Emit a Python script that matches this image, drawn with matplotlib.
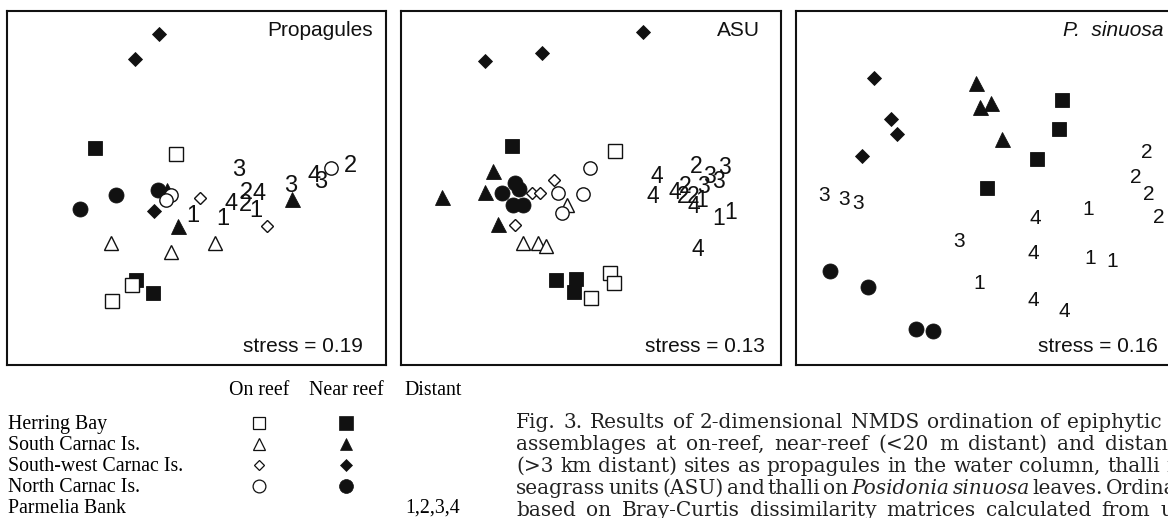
import matplotlib
matplotlib.use('Agg')
import matplotlib.pyplot as plt

# NMDS scores, in box units (0-100 across each panel)
# Propagules
prop_hb_on = [(44.7, 59.6), (32.9, 22.6), (27.7, 18.1)]
prop_hb_near = [(23.2, 61.3), (34.0, 24.0), (38.5, 20.4)]
prop_sc_on = [(27.5, 34.6), (43.2, 32.0), (54.9, 34.6)]
prop_sc_near = [(45.1, 39.2), (75.3, 46.9), (42.2, 49.5)]
prop_sw_on = [(51.0, 47.3), (68.7, 39.2), (42.7, 48.3)]
prop_sw_near = [(40.0, 93.6), (33.8, 86.3), (38.8, 43.5)]
prop_nc_on = [(43.3, 48.1), (42.0, 46.6), (85.5, 55.6)]
prop_nc_near = [(19.3, 44.0), (28.8, 47.9), (39.9, 49.5)]
prop_pb = [('3', 61.0, 55.1), ('2', 63.3, 48.6), ('4', 66.5, 48.3), ('4', 59.2, 45.5),
           ('2', 62.8, 45.2), ('1', 65.7, 43.6), ('1', 49.0, 42.1), ('1', 56.9, 41.2),
           ('3', 74.8, 50.5), ('4', 81.1, 53.4), ('3', 82.8, 51.7), ('2', 90.5, 56.1)]

# ASU
asu_hb_on = [(56.3, 60.5), (55.0, 26.1), (56.1, 23.1), (50.0, 18.9)]
asu_hb_near = [(29.1, 61.9), (40.7, 24.1), (46.0, 24.4), (45.5, 20.5)]
asu_sc_on = [(43.6, 45.1), (32.2, 34.5), (36.1, 34.5), (38.2, 33.5)]
asu_sc_near = [(24.3, 54.7), (10.7, 47.5), (22.1, 48.9), (25.6, 39.8)]
asu_sw_on = [(40.3, 52.3), (34.6, 48.5), (36.6, 48.7), (30.0, 39.6)]
asu_sw_near = [(22.1, 86.0), (37.0, 88.0), (63.6, 94.0)]
asu_nc_on = [(49.7, 55.7), (41.4, 48.5), (47.8, 48.2), (42.3, 43.0)]
asu_nc_near = [(26.5, 48.7), (30.0, 51.3), (31.1, 49.7), (29.4, 45.3), (32.0, 45.3)]
asu_pb = [('4', 67.3, 53.3), ('4', 66.2, 47.5), ('2', 77.6, 56.2), ('3', 85.1, 55.7),
          ('4', 72.1, 48.7), ('2', 74.7, 50.4), ('2', 74.3, 47.5), ('3', 81.1, 53.3),
          ('3', 83.5, 51.8), ('3', 79.6, 50.4), ('2', 76.9, 47.5), ('1', 79.1, 46.5),
          ('4', 77.1, 44.8), ('1', 83.5, 41.4), ('1', 86.8, 43.2), ('4', 78.2, 32.7)]

# P. sinuosa
ps_hb_near = [(69.9, 75.0), (69.3, 66.8), (63.3, 58.1), (50.2, 49.9)]
ps_sc_near = [(47.4, 79.8), (48.4, 72.8), (51.3, 74.0), (54.1, 63.9)]
ps_sw_near = [(20.6, 81.2), (25.0, 69.4), (26.6, 65.3), (17.3, 58.9)]
ps_nc_near = [(9.0, 26.6), (19.0, 22.0), (31.6, 10.2), (36.0, 9.7)]
ps_pb = [('3', 7.3, 48.0), ('3', 12.7, 46.7), ('3', 16.4, 45.6), ('3', 42.8, 35.0),
         ('1', 48.2, 23.1), ('4', 62.9, 41.5), ('4', 62.5, 31.6), ('4', 62.5, 18.3),
         ('4', 70.6, 15.0), ('1', 76.8, 43.9), ('1', 77.5, 30.0), ('1', 83.1, 29.2),
         ('2', 92.4, 60.0), ('2', 89.5, 53.0), ('2', 92.8, 48.3), ('2', 95.4, 41.7)]

stress_vals = ['0.19', '0.13', '0.16']

sites = ['Herring Bay', 'South Carnac Is.', 'South-west Carnac Is.',
         'North Carnac Is.', 'Parmelia Bank']
site_keys = ['hb', 'sc', 'sw', 'nc']

caption = [
    ['Fig.', '3.', 'Results', 'of', '2-dimensional', 'NMDS', 'ordination', 'of',
     'epiphytic', 'algal'],
    ['assemblages', 'at', 'on-reef,', 'near-reef', '(<20', 'm', 'distant)', 'and',
     'distant'],
    ['(>3', 'km', 'distant)', 'sites', 'as', 'propagules', 'in', 'the', 'water',
     'column,', 'thalli', 'in'],
    ['seagrass', 'units', '(ASU)', 'and', 'thalli', 'on', 'Posidonia', 'sinuosa',
     'leaves.', 'Ordination'],
    ['based', 'on', 'Bray-Curtis', 'dissimilarity', 'matrices', 'calculated', 'from',
     'untransformed'],
]
# word used to justify each line and where its right edge sits (px)
cap_anchor = [(8, 1162), (8, 1176), (10, 1160), (8, 1103), (6, 1150)]
cap_italic = ['Posidonia', 'sinuosa']

# marker, filled, size(pt) on the panels
STYLE = {
    'hb_on': ('s', False, 10.0), 'hb_near': ('s', True, 10.5),
    'sc_on': ('^', False, 10.0), 'sc_near': ('^', True, 10.8),
    'sw_on': ('D', False, 6.2), 'sw_near': ('D', True, 7.6),
    'nc_on': ('o', False, 9.6), 'nc_near': ('o', True, 10.8),
}
INK = '#111111'
SANS = 'Liberation Sans'
SERIF = 'Liberation Serif'

W, H = 1168, 518
fig = plt.figure(figsize=(W / 100, H / 100), dpi=100)


def px_axes(x0, y0, x1, y1):
    return fig.add_axes([x0 / W, 1 - y1 / H, (x1 - x0) / W, (y1 - y0) / H])


def draw_panel(ax, groups, numbers, title, stress, tpos, spos, numsize, italic=False):
    for key in ['hb_near', 'sc_near', 'sw_near', 'nc_near',
                'hb_on', 'sc_on', 'sw_on', 'nc_on']:
        pts = groups.get(key)
        if not pts:
            continue
        m, filled, ms = STYLE[key]
        xs = [p[0] for p in pts]
        ys = [p[1] for p in pts]
        ax.plot(xs, ys, ls='none', marker=m, ms=ms,
                mfc=INK if filled else 'white', mec=INK,
                mew=0.6 if filled else 1.0)
    for lab, x, y in numbers:
        ax.text(x, y, lab, ha='center', va='center', fontsize=numsize,
                family=SANS, color=INK)
    ax.text(tpos[0], tpos[1], title, transform=ax.transAxes, ha='right',
            va='center', fontsize=15, family=SANS, color=INK,
            style='italic' if italic else 'normal')
    ax.text(spos[0], spos[1], 'stress = ' + stress, transform=ax.transAxes,
            ha='right', va='center', fontsize=15, family=SANS, color=INK)
    ax.set_xlim(0, 100)
    ax.set_ylim(0, 100)
    ax.set_xticks([])
    ax.set_yticks([])
    for sp in ax.spines.values():
        sp.set_linewidth(1.5)
        sp.set_color(INK)


ax1 = px_axes(7, 11, 386, 365)
draw_panel(ax1, {'hb_on': prop_hb_on, 'hb_near': prop_hb_near,
                 'sc_on': prop_sc_on, 'sc_near': prop_sc_near,
                 'sw_on': prop_sw_on, 'sw_near': prop_sw_near,
                 'nc_on': prop_nc_on, 'nc_near': prop_nc_near},
           prop_pb, 'Propagules', stress_vals[0], (0.966, 0.946), (0.939, 0.051), 17)

ax2 = px_axes(401, 11, 781, 365)
draw_panel(ax2, {'hb_on': asu_hb_on, 'hb_near': asu_hb_near,
                 'sc_on': asu_sc_on, 'sc_near': asu_sc_near,
                 'sw_on': asu_sw_on, 'sw_near': asu_sw_near,
                 'nc_on': asu_nc_on, 'nc_near': asu_nc_near},
           asu_pb, 'ASU', stress_vals[1], (0.945, 0.946), (0.958, 0.051), 16.5)

ax3 = px_axes(796, 11, 1176, 365)
draw_panel(ax3, {'hb_near': ps_hb_near, 'sc_near': ps_sc_near,
                 'sw_near': ps_sw_near, 'nc_near': ps_nc_near},
           ps_pb, 'P.  sinuosa', stress_vals[2], (0.966, 0.946), (0.953, 0.051), 15,
           italic=True)

# overlay in pixel coordinates for the key and the caption
lax = fig.add_axes([0, 0, 1, 1])
lax.set_xlim(0, W)
lax.set_ylim(H, 0)
lax.axis('off')

col_on, col_near, col_far = 259, 346, 433
hdr_y = 395
row_y = [429, 450, 471, 492, 513]
lax.text(col_on, hdr_y, 'On reef', ha='center', va='baseline', fontsize=14.3, family=SERIF)
lax.text(col_near, hdr_y, 'Near reef', ha='center', va='baseline', fontsize=14.3, family=SERIF)
lax.text(col_far, hdr_y, 'Distant', ha='center', va='baseline', fontsize=14.3, family=SERIF)
legend_ms = {'s': (8.8, 9.6), '^': (8.6, 9.0), 'D': (5.2, 5.8), 'o': (9.2, 10.0)}
for i, name in enumerate(sites):
    lax.text(8, row_y[i], name, ha='left', va='baseline', fontsize=14.3, family=SERIF)
    if i < 4:
        m = STYLE[site_keys[i] + '_on'][0]
        lax.plot([col_on], [row_y[i] - 6], ls='none', marker=m, ms=legend_ms[m][0],
                 mfc='white', mec=INK, mew=0.9)
        lax.plot([col_near], [row_y[i] - 6], ls='none', marker=m, ms=legend_ms[m][1],
                 mfc=INK, mec=INK, mew=0.5)
lax.text(col_far, row_y[4], '1,2,3,4', ha='center', va='baseline', fontsize=14.3,
         family=SERIF)

# justified caption, cut by the right edge like the scan
renderer = fig.canvas.get_renderer()
cap_x0 = 516
cap_y = [428, 450, 472, 494, 516]
for words, (ai, ax_r), y in zip(caption, cap_anchor, cap_y):
    arts = []
    for w in words:
        t = lax.text(0, y, w, ha='left', va='baseline', fontsize=14.5,
                     family='DejaVu Serif', color='#222222',
                     style='italic' if w in cap_italic else 'normal')
        arts.append(t)
    widths = [a.get_window_extent(renderer).width for a in arts]
    gap = (ax_r - cap_x0 - sum(widths[:ai + 1])) / ai
    x = cap_x0
    for a, wd in zip(arts, widths):
        a.set_x(x)
        x += wd + gap

fig.savefig('out.png', dpi=100)
